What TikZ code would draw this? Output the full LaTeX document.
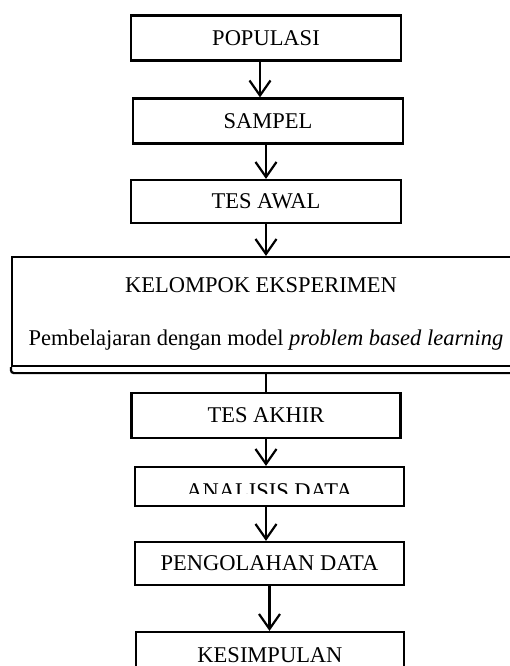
\documentclass[tikz,border=0pt]{standalone}
\usepackage{fontspec}
\setmainfont{Liberation Serif}
\usetikzlibrary{arrows.meta}
\tikzset{
  flowbox/.style={draw, line width=2.2pt, minimum width=270pt, minimum height=45pt, inner sep=0pt,
    font=\fontsize{22.5}{26}\selectfont},
  flowtext/.style={inner sep=0pt, font=\fontsize{22.5}{26}\selectfont},
  flowarrow/.style={line width=2.2pt, -{Straight Barb[length=15pt, width=21pt, line width=2.2pt]}},
  flowline/.style={line width=2.2pt}
}
\begin{document}
\begin{tikzpicture}[x=1pt, y=-1pt]
\useasboundingbox (0,0) rectangle (510,666);
\clip (0,0) rectangle (510,666);

% process boxes, top to bottom
\node[flowbox] (pop) at (266,38) {POPULASI};
\node[flowbox] (sam) at (268,121) {SAMPEL};
\node[flowbox, minimum height=43pt] (awal) at (266,201.5) {TES AWAL};
\node[draw, line width=2.2pt, minimum width=503pt, minimum height=109pt] (kel) at (263.5,311.5) {};
\node[flowtext] (kelA) at (261,285) {KELOMPOK EKSPERIMEN};
\node[flowtext] (kelB) at (266,340) {Pembelajaran dengan model \textit{problem based learning}};
\node[flowbox, minimum width=269pt] (akhir) at (266,415.5) {TES AKHIR};
\node[flowbox, minimum width=269pt, minimum height=39pt] (anal) at (269.5,486.5) {};
\begin{scope}
  \clip (130,460) rectangle (410,493);
  \node[flowtext, anchor=base] (analT) at (269.5,498) {ANALISIS DATA};
\end{scope}
\node[flowbox, minimum width=269pt, minimum height=43pt] (olah) at (269.5,563.5) {PENGOLAHAN DATA};
\node[flowbox, minimum width=268pt, minimum height=46pt] (simp) at (270,655) {KESIMPULAN};

% shadow line under the experiment box
\draw[flowline, rounded corners=3pt] (kel.south west) -- ++(0,6) -- ++(520,0);

% connectors
\draw[flowarrow] ([xshift=-6pt]pop.south) -- ([xshift=-6pt]pop.south |- sam.north);
\draw[flowarrow] ([xshift=-2pt]sam.south) -- ([xshift=-2pt]sam.south |- awal.north);
\draw[flowarrow] (awal.south) -- (awal.south |- kel.north);
\draw[flowline] ([yshift=-6pt]kel.south -| akhir.north) -- (akhir.north);
\draw[flowarrow] (akhir.south) -- (akhir.south |- anal.north);
\draw[flowarrow] ([xshift=-3.5pt]anal.south) -- ([xshift=-3.5pt]anal.south |- olah.north);
\draw[flowarrow] (olah.south) -- (olah.south |- simp.north);
\end{tikzpicture}
\end{document}
